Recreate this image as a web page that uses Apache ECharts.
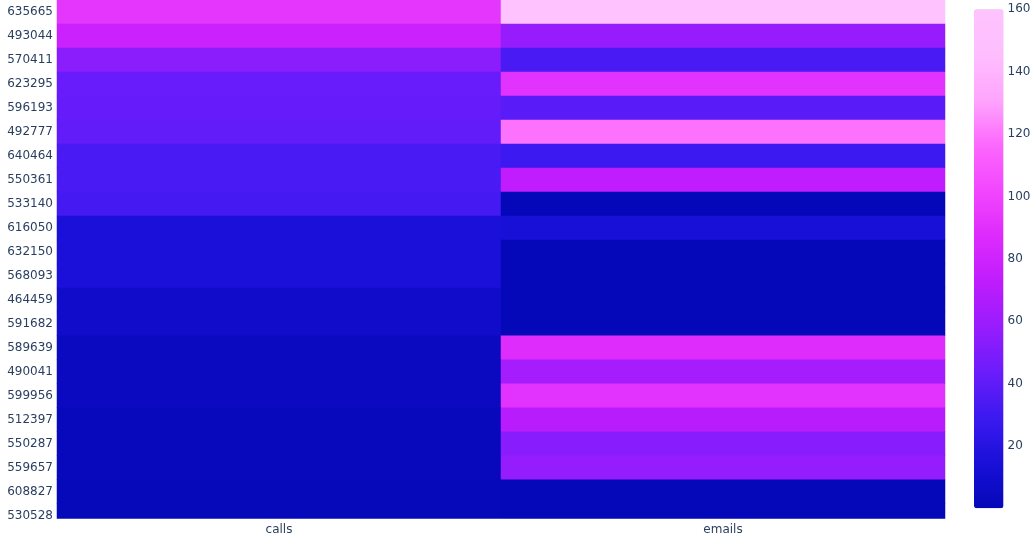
<!DOCTYPE html>
<html>
<head>
<meta charset="utf-8">
<script src="https://cdn.jsdelivr.net/npm/echarts@6/dist/echarts.min.js"></script>
<style>
  html, body { margin: 0; padding: 0; background: #fff; }
  #chart { width: 1034px; height: 540px; }
</style>
</head>
<body>
<div id="chart"></div>
<script>
// ids shown on the y axis, top to bottom
const rowLabels = ["635665", "493044", "570411", "623295", "596193", "492777", "640464", "550361",
    "533140", "616050", "632150", "568093", "464459", "591682", "589639", "490041",
    "599956", "512397", "550287", "559657", "608827", "530528"];
const colLabels = ["calls", "emails"];

const callsValues = [93, 78, 54, 43, 42, 41, 33, 33, 32, 15, 15, 15, 8, 8, 4, 4, 4, 2, 2, 2, 1, 1];
const emailsValues = [160, 58, 33, 91, 38, 119, 29, 73, 0, 14, 0, 0, 0, 0, 88, 63, 91, 70, 53, 57, 0, 0];

const colorbarTicks = [20, 40, 60, 80, 100, 120, 140, 160];

// plotly3 colour scale
const plotly3 = ["#0508b8", "#1910d8", "#3c19f0", "#6b1cfb", "#981cfd", "#bf1cfd",
    "#dd2bfd", "#f246fe", "#fc67fd", "#fea5fd", "#febefe", "#fec3fe"];

const FONT = "DejaVu Sans";
const TEXT_COLOR = "#2a3f5f";

let heatData = [];
for (let i = 0; i < rowLabels.length; i++) {
    heatData.push([0, i, callsValues[i]]);
    heatData.push([1, i, emailsValues[i]]);
}

const chart = echarts.init(document.getElementById("chart"));
chart.setOption({
    animation: false,
    grid: [
        { left: 57, width: 888, top: -1.3, height: 529.1 },
        // thin grid that only carries the colour bar tick labels
        { left: 1003.5, width: 1, top: 9.3, height: 499 }
    ],
    xAxis: [
        {
            type: "category",
            gridIndex: 0,
            data: colLabels,
            zlevel: 1,
            axisLine: { show: false },
            axisTick: { show: false },
            splitLine: { show: false },
            axisLabel: { color: TEXT_COLOR, fontFamily: FONT, fontSize: 12, margin: -4 }
        },
        { type: "value", gridIndex: 1, show: false }
    ],
    yAxis: [
        {
            type: "category",
            gridIndex: 0,
            data: rowLabels,
            inverse: true,
            axisLine: { show: false },
            axisTick: { show: false },
            splitLine: { show: false },
            axisLabel: { color: TEXT_COLOR, fontFamily: FONT, fontSize: 12, margin: 4, interval: 0 }
        },
        {
            type: "value",
            gridIndex: 1,
            min: 0,
            max: 160,
            interval: 20,
            axisLine: { show: false },
            axisTick: { show: false },
            splitLine: { show: false },
            axisLabel: {
                inside: true,
                margin: 4,
                color: TEXT_COLOR,
                fontFamily: FONT,
                fontSize: 12,
                formatter: function (v) {
                    return colorbarTicks.indexOf(v) >= 0 ? String(v) : "";
                }
            }
        }
    ],
    visualMap: {
        type: "continuous",
        min: 0,
        max: 160,
        seriesIndex: 0,
        calculable: false,
        orient: "vertical",
        left: 974,
        top: 9.3,
        padding: 0,
        itemWidth: 29.5,
        itemHeight: 499,
        text: null,
        showLabel: false,
        inRange: { color: plotly3 }
    },
    // bottom row is cut by the plot edge in the reference
    graphic: [
        {
            type: "rect",
            z: 100,
            shape: { x: 50, y: 518.7, width: 900, height: 30 },
            style: { fill: "#fff" },
            silent: true
        }
    ],
    series: [
        {
            type: "heatmap",
            xAxisIndex: 0,
            yAxisIndex: 0,
            data: heatData,
            itemStyle: { borderWidth: 0 },
            emphasis: { disabled: true },
            label: { show: false }
        }
    ]
});
</script>
</body>
</html>
